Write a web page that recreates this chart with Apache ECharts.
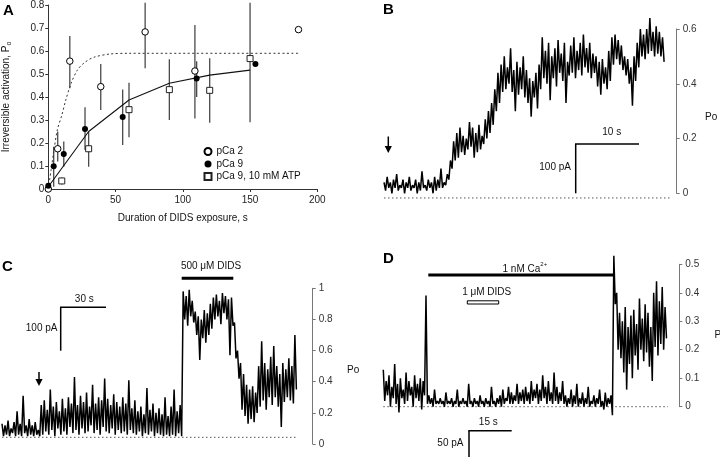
<!DOCTYPE html>
<html><head><meta charset="utf-8">
<script src="https://cdn.jsdelivr.net/npm/echarts@6/dist/echarts.min.js"></script>
<style>html,body{margin:0;padding:0;background:#fff}#c{width:720px;height:459px}</style>
</head><body><div id="c"></div>
<script>
// ---------- Panel A: irreversible activation vs DIDS exposure ----------
const pCa2X  = [0, 7, 16, 39, 72, 109, 186];
const pCa2Y  = [0, 0.175, 0.556, 0.445, 0.683, 0.513, 0.693];
const pCa2Lo = [null, 0.12, 0.438, 0.343, 0.525, 0.307, null];
const pCa2Hi = [null, 0.25, 0.665, 0.543, 0.81, 0.713, null];

const pCa9X  = [0, 4, 11.5, 27.3, 55.3, 110.3, 154];
const pCa9Y  = [0.014, 0.099, 0.152, 0.261, 0.313, 0.48, 0.543];
const pCa9Lo = [null, 0.01, 0.097, 0.17, 0.191, 0.40, null];
const pCa9Hi = [null, 0.184, 0.206, 0.355, 0.433, 0.555, null];

const atpX  = [10, 30, 60, 90, 120, 150];
const atpY  = [0.035, 0.175, 0.345, 0.432, 0.429, 0.567];
const atpLo = [0.02, 0.097, 0.225, 0.30, 0.288, 0.29];
const atpHi = [0.05, 0.249, 0.462, 0.564, 0.568, 0.81];

const fitSolidX = [0, 30, 60, 90, 120, 150];
const fitSolidY = [0.01, 0.25, 0.387, 0.46, 0.495, 0.517];
const fitDotX = [0, 2, 4, 6.7, 10, 13, 17, 21.6, 27, 34, 46, 60, 186];
const fitDotY = [0, 0.08, 0.16, 0.257, 0.32, 0.387, 0.46, 0.517, 0.55, 0.573, 0.587, 0.59, 0.59];

const aXTicks = [0, 50, 100, 150, 200];

// ---------- Panel B trace (Po), sample step in s ----------
const bDt = 0.25;
const bTrace = [
 .04,.01,.06,.02,.04,.00,.05,.02,.07,.01,
 .03,.02,.05,.00,.04,.02,.06,.01,.03,.02,
 .05,.00,.04,.01,.08,.02,.03,.01,.05,.02,
 .04,.00,.06,.01,.05,.02,.09,.02,.04,.03,
 .07,.05,.12,.09,
 .19,.12,.22,.13,.24,.15,
 .21,.14,.20,.16,.26,.17,
 .24,.13,.22,.15,
 .25,.16,.21,.18,
 .27,.20,.30,.22,
 .33,.25,.38,.30,
 .44,.33,.47,.37,
 .50,.38,.46,.40,
 .53,.37,.45,.30,.48,.36,
 .46,.38,.50,.35,
 .45,.33,.42,.28,.41,.35,
 .44,.31,.47,.38,
 .57,.42,.52,.40,.55,.34,
 .50,.42,.53,.39,.56,.44,
 .51,.41,.55,.33,.48,.43,
 .54,.44,.57,.42,.52,.45,
 .55,.43,.58,.46,.53,.44,
 .55,.42,.51,.44,.50,.39,
 .48,.36,.49,.40,.46,.38,
 .52,.41,.57,.47,.58,.49,
 .56,.47,.54,.45,.50,.43,
 .49,.40,.46,.32,.50,.41,
 .55,.46,.60,.50,.58,.49,
 .60,.51,.64,.52,.59,.50,
 .61,.51,.59,.50,.57,.48
];
const bZeroCurrent = -0.017;
const bTicks = [0, 0.2, 0.4, 0.6];

// ---------- Panel C trace (Po), sample step in s ----------
const cDt = 1;
const cTrace = [
 .13,.05,.12,.06,.15,.05,.10,.07,.14,.05,
 .21,.06,.13,.05,.31,.07,.12,.05,.16,.06,
 .12,.05,.14,.06,.09,.05,
 .25,.06,.28,.08,
 .22,.06,.35,.09,.24,.05,.27,.10,.21,.06,
 .29,.08,.23,.06,.30,.11,.26,.07,.43,.09,
 .25,.06,.31,.10,.27,.07,.33,.08,.24,.12,
 .38,.07,.26,.09,.30,.06,.28,.11,.42,.08,
 .29,.07,.25,.10,.32,.06,.27,.09,.24,.07,
 .30,.08,.26,.06,.41,.09,.23,.07,.28,.06,
 .21,.08,.24,.05,.19,.07,.36,.06,.22,.08,
 .26,.05,.20,.07,.23,.06,.19,.05,.30,.06,
 .18,.05,.24,.06,.35,.05,.21,.07,.25,
 .05,
 .98,.80,.95,.76,.99,.82,.92,.78,.85,.70,
 .82,.54,.80,.68,.86,.65,.84,.70,.90,.74,
 .94,.80,.96,.82,.92,.77,.97,.84,.95,.80,
 .93,.57,.94,.76,.78,.55,
 .60,.42,.52,.22,.45,.18,.38,.13,.35,.16,
 .37,.14,.33,.20,.50,.24,.66,.28,
 .52,.22,.48,.30,.56,.25,.63,.30,.50,.24,
 .45,.11,.52,.27,.48,.30,.55,.28,.50,.26,.70,.35
];
const cZeroCurrent = 0.043;
const cTicks = [0, 0.2, 0.4, 0.6, 0.8, 1];

// ---------- Panel D trace (Po), sample step in s ----------
const dDt = 0.5;
const dTrace = [
 .13,.02,.09,.04,.11,.00,.07,.03,.15,.01,
 .08,-.02,.10,.03,.06,.01,.12,.02,.09,.04,
 .07,.00,.11,.03,.08,.02,.10,-.01,.09,.04,
 .39,
 .01,.04,.01,.03,.00,.06,.01,.02,.01,
 .03,.01,.02,.00,.05,.01,.02,.01,.03,.00,
 .02,.01,.06,.00,.02,.01,.03,.01,.02,.00,
 .08,.01,.02,.00,.03,.01,.02,.00,.04,.01,
 .02,.00,.03,.01,.02,.00,.07,.01,.02,.00,
 .03,.01,.04,.00,.06,.01,.03,.02,.07,.01,
 .05,.01,.04,.02,.08,.01,.05,.02,.06,.01,
 .07,.02,.05,.01,.09,.02,.06,.03,.08,.01,
 .06,.02,.11,.03,.07,.01,.09,.02,.05,.01,
 .12,.02,.07,.01,.05,.02,.09,.01,.04,.00,
 .03,.01,.06,.00,.04,.01,.08,.00,.03,.01,
 .05,.00,.03,.01,.07,.00,.02,.01,.04,.00,
 .03,.01,.06,.00,.02,-.01,.05,.00,.03,.01,
 .04,-.03,.53,.36,
 .40,.20,.33,.17,.30,.12,.35,.06,.28,.15,
 .32,.10,.34,.18,.29,.13,.38,.20,.31,.16,
 .36,.19,.33,.14,.28,.09,.40,.21,.44,.18,
 .37,.22,.42,.20,.35,.24
];
const dZeroCurrent = 0.0;
const dTicks = [0, 0.1, 0.2, 0.3, 0.4, 0.5];

// ---------- build ----------
const FONT = 'Liberation Sans, Arial, Helvetica, sans-serif';
const zip = (xs, ys) => xs.map((x, i) => [x, ys[i]]);
const errData = (xs, lo, hi) => xs.map((x, i) => [x, lo[i], hi[i]]).filter(d => d[1] != null);
const traceData = (vals, dt) => vals.map((v, i) => [i * dt, v]);

function errRender(params, api) {
  const x = api.value(0), lo = api.value(1), hi = api.value(2);
  const p1 = api.coord([x, lo]), p2 = api.coord([x, hi]);
  return { type: 'line', shape: { x1: p1[0], y1: p1[1], x2: p2[0], y2: p2[1] },
           style: { stroke: '#4a4a4a', lineWidth: 1.3 } };
}

const rightY = (gi, ticks, max) => ({
  gridIndex: gi, type: 'value', position: 'right', min: 0, max: max,
  interval: ticks[1] - ticks[0],
  axisLine: { show: true, onZero: false, lineStyle: { color: '#777', width: 1 } },
  axisTick: { show: true, length: 3, lineStyle: { color: '#777' } },
  axisLabel: { color: '#333', fontSize: 10, fontFamily: FONT, margin: 6 },
  splitLine: { show: false }
});
const hiddenX = (gi, max) => ({ gridIndex: gi, type: 'value', min: 0, max: max, show: false,
  axisLine: { show: false, onZero: false } });

const traceSeries = (xi, data) => ({
  type: 'line', xAxisIndex: xi, yAxisIndex: xi, data: data, showSymbol: false,
  symbol: 'none', clip: false, sampling: null,
  lineStyle: { color: '#000', width: 1.5 }, z: 3
});
const baseSeries = (xi, x1, y) => ({
  type: 'line', xAxisIndex: xi, yAxisIndex: xi, data: [[0, y], [x1, y]], symbol: 'none', clip: false,
  lineStyle: { color: '#555', width: 1, type: [1.5, 2.5] }, z: 2
});

const txt = (x, y, text, opt) => Object.assign({
  type: 'text', x: x, y: y, silent: true,
  style: Object.assign({ text: text, fill: '#111', font: '10px ' + FONT,
    align: 'center', verticalAlign: 'middle', textAlign: 'center', textVerticalAlign: 'middle' }, opt || {})
});
const ln = (x1, y1, x2, y2, w) => ({ type: 'line', silent: true,
  shape: { x1, y1, x2, y2 }, style: { stroke: '#000', lineWidth: w || 1.5 } });
const arrow = (x, y0, y1) => [
  ln(x, y0, x, y1 - 5, 1.5),
  { type: 'polygon', silent: true, shape: { points: [[x - 3.6, y1 - 7], [x + 3.6, y1 - 7], [x, y1]] }, style: { fill: '#000' } }
];
const bold = (x, y, t) => txt(x, y, t, { font: 'bold 15px ' + FONT, fill: '#000', align: 'left', textAlign: 'left' });

const option = {
  animation: false,
  backgroundColor: '#fff',
  textStyle: { fontFamily: FONT },
  grid: [
    { left: 48.3, right: 402.7, top: 5, bottom: 270, containLabel: false, outerBoundsMode: 'none' },
    { left: 384, right: 43.3, top: 29, bottom: 265.7, containLabel: false, outerBoundsMode: 'none' },
    { left: 2, right: 407.3, top: 288.3, bottom: 15, containLabel: false, outerBoundsMode: 'none' },
    { left: 383.3, right: 40.7, top: 264.3, bottom: 52.3, containLabel: false, outerBoundsMode: 'none' }
  ],
  xAxis: [
    { gridIndex: 0, type: 'value', min: aXTicks[0], max: aXTicks[aXTicks.length - 1], interval: aXTicks[1] - aXTicks[0],
      name: 'Duration of DIDS exposure, s', nameLocation: 'middle', nameGap: 24,
      nameTextStyle: { fontSize: 10, color: '#111', fontFamily: FONT },
      axisLine: { show: true, lineStyle: { color: '#333' } },
      axisTick: { show: true, length: 3, lineStyle: { color: '#333' } },
      axisLabel: { color: '#222', fontSize: 10, fontFamily: FONT, margin: 6 },
      splitLine: { show: false } },
    hiddenX(1, 46.24),
    hiddenX(2, 205.8),
    hiddenX(3, 104.0)
  ],
  yAxis: [
    { gridIndex: 0, type: 'value', min: 0, max: 0.8, interval: 0.1,
      name: 'Irreversible activation, P{s|o}', nameLocation: 'middle', nameGap: 36,
      nameTextStyle: { fontSize: 10, color: '#111', fontFamily: FONT,
        rich: { s: { fontSize: 7, verticalAlign: 'bottom', padding: [5, 0, 0, 0], color: '#111' } } },
      axisLine: { show: true, lineStyle: { color: '#333' } },
      axisTick: { show: true, length: 3, lineStyle: { color: '#333' } },
      axisLabel: { color: '#222', fontSize: 10, fontFamily: FONT, margin: 4 },
      splitLine: { show: false } },
    rightY(1, bTicks, bTicks[bTicks.length - 1]),
    rightY(2, cTicks, cTicks[cTicks.length - 1]),
    rightY(3, dTicks, dTicks[dTicks.length - 1])
  ],
  legend: {
    orient: 'vertical', left: 198.5, top: 141.5, itemGap: 2.5, itemWidth: 7, itemHeight: 7,
    textStyle: { fontSize: 10, color: '#111', fontFamily: FONT },
    data: ['pCa 2', 'pCa 9', 'pCa 9, 10 mM ATP'], selectedMode: false
  },
  series: [
    { type: 'custom', xAxisIndex: 0, yAxisIndex: 0, renderItem: errRender, data: errData(pCa2X, pCa2Lo, pCa2Hi), encode: { x: 0, y: [1, 2] }, z: 1 },
    { type: 'custom', xAxisIndex: 0, yAxisIndex: 0, renderItem: errRender, data: errData(pCa9X, pCa9Lo, pCa9Hi), encode: { x: 0, y: [1, 2] }, z: 1 },
    { type: 'custom', xAxisIndex: 0, yAxisIndex: 0, renderItem: errRender, data: errData(atpX, atpLo, atpHi), encode: { x: 0, y: [1, 2] }, z: 1 },
    { type: 'line', xAxisIndex: 0, yAxisIndex: 0, data: zip(fitSolidX, fitSolidY), symbol: 'none', clip: false,
      lineStyle: { color: '#111', width: 1.1 }, z: 2 },
    { type: 'line', xAxisIndex: 0, yAxisIndex: 0, data: zip(fitDotX, fitDotY), symbol: 'none', smooth: 0.3, clip: false,
      lineStyle: { color: '#333', width: 1, type: [2, 2.5] }, z: 2 },
    { name: 'pCa 2', type: 'scatter', xAxisIndex: 0, yAxisIndex: 0, data: zip(pCa2X, pCa2Y), symbol: 'circle', symbolSize: 6.5, clip: false,
      itemStyle: { color: '#fff', borderColor: '#000', borderWidth: 1, opacity: 1 }, z: 4 },
    { name: 'pCa 9', type: 'scatter', xAxisIndex: 0, yAxisIndex: 0, data: zip(pCa9X, pCa9Y), symbol: 'circle', symbolSize: 6, clip: false,
      itemStyle: { color: '#000', opacity: 1 }, z: 4 },
    { name: 'pCa 9, 10 mM ATP', type: 'scatter', xAxisIndex: 0, yAxisIndex: 0, data: zip(atpX, atpY), symbol: 'rect', symbolSize: 6, clip: false,
      itemStyle: { color: '#fff', borderColor: '#222', borderWidth: 1, opacity: 1 }, z: 4 },

    baseSeries(1, 45.5, bZeroCurrent),
    traceSeries(1, traceData(bTrace, bDt)),
    baseSeries(2, 195, cZeroCurrent),
    traceSeries(2, traceData(cTrace, cDt)),
    baseSeries(3, 100, dZeroCurrent),
    traceSeries(3, traceData(dTrace, dDt))
  ],
  graphic: [
    bold(3, 11, 'A'), bold(383, 9.5, 'B'), bold(2, 266.5, 'C'), bold(383, 259, 'D'),
    // Panel B annotations
    txt(705, 117, 'Po', { align: 'left', textAlign: 'left' }),
    ln(575.7, 144, 575.7, 193.3), ln(575, 144, 639, 144),
    txt(611.7, 132.5, '10 s'),
    txt(571, 167, '100 pA', { align: 'right', textAlign: 'right' }),
    ...arrow(388.3, 136.5, 153),
    // Panel C annotations
    txt(347, 370.7, 'Po', { align: 'left', textAlign: 'left' }),
    txt(211, 266, '500 μM DIDS'),
    ln(181.7, 278.3, 233.3, 278.3, 3),
    ln(60.7, 307.3, 60.7, 350.7), ln(60, 307.3, 106, 307.3),
    txt(84.3, 299.3, '30 s'),
    txt(57.5, 328.3, '100 pA', { align: 'right', textAlign: 'right' }),
    ...arrow(39, 372, 386),
    // Panel D annotations
    txt(714.5, 335, 'Po', { align: 'left', textAlign: 'left' }),
    txt(502.5, 268.8, '1 nM Ca', { align: 'left', textAlign: 'left' }),
    txt(540.3, 264.5, '2+', { align: 'left', textAlign: 'left', font: '6px ' + FONT }),
    ln(428.3, 275, 613.3, 275, 3),
    txt(486.7, 292.3, '1 μM DIDS'),
    { type: 'rect', silent: true, shape: { x: 467.3, y: 300.8, width: 31.4, height: 3.2 }, style: { fill: '#fff', stroke: '#000', lineWidth: 1 } },
    ln(469, 430.7, 469, 457), ln(468.3, 430.7, 511.7, 430.7),
    txt(488.3, 422.5, '15 s'),
    txt(463.5, 443.3, '50 pA', { align: 'right', textAlign: 'right' })
  ]
};
const chart = echarts.init(document.getElementById('c'), null, { renderer: 'canvas' });
chart.setOption(option);
</script>
</body></html>
